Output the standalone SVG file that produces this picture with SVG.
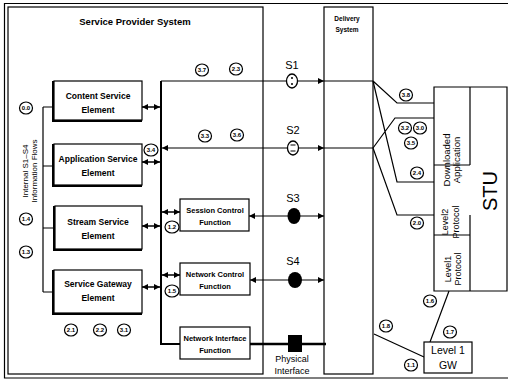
<svg xmlns="http://www.w3.org/2000/svg" width="510" height="383" viewBox="0 0 510 383">
<defs>
<marker id="ah" markerUnits="userSpaceOnUse" markerWidth="7" markerHeight="7" refX="6" refY="3" orient="auto-start-reverse"><path d="M0,0 L6,3 L0,6 z" fill="#000"/></marker>
<style>
.ln{stroke:#000;fill:none;stroke-width:1.2}
.bus{stroke:#000;fill:none;stroke-width:2}
.bx{fill:#fff;stroke:#000;stroke-width:1.2}
.sh{stroke:#000;fill:none;stroke-width:3}
text{font-family:"Liberation Sans",Arial,sans-serif;fill:#000}
.tb{font-weight:bold;text-anchor:middle}
.el{font-size:8.5px}
.fn{font-size:7.5px}
.tn{text-anchor:middle}
.bub ellipse{fill:#fff;stroke:#000;stroke-width:1.2}
.bub text{font-size:6px;font-weight:bold;text-anchor:middle}
.da{stroke:#000;stroke-width:1.5;marker-start:url(#ah);marker-end:url(#ah)}
</style>
</defs>
<rect width="510" height="383" fill="#fff"/>
<path class="ln" d="M508,3.5 H4.5 V378 H508"/>

<g id="service-provider">
<rect x="8" y="7" width="255" height="367" class="bx"/>
<text x="135" y="25" class="tb" font-size="9.5">Service Provider System</text>
<text transform="translate(28,171) rotate(-90)" class="tn" font-size="8"><tspan x="0" y="0">Internal S1–S4</tspan><tspan x="0" y="9">Information Flows</tspan></text>
</g>

<g id="connectors">
<path class="ln" d="M43,107 V292 M43,107 H53 M43,166 H53 M43,228 H53 M43,292 H53"/>
<path class="bus" d="M161,81 V344 H180"/>
<line x1="161" y1="81" x2="324" y2="81" class="ln" marker-end="url(#ah)"/>
<line x1="162" y1="148" x2="324" y2="148" class="ln" marker-start="url(#ah)" marker-end="url(#ah)"/>
<line x1="249" y1="216" x2="324" y2="216" class="ln" marker-start="url(#ah)" marker-end="url(#ah)"/>
<line x1="250" y1="280" x2="324" y2="280" class="ln" marker-start="url(#ah)" marker-end="url(#ah)"/>
<line x1="250" y1="344" x2="326" y2="344" stroke="#000" stroke-width="2.5"/>
<line x1="142" y1="107" x2="160" y2="107" class="da"/>
<line x1="142" y1="162" x2="160" y2="162" class="da"/>
<line x1="142" y1="226" x2="160" y2="226" class="da"/>
<line x1="142" y1="287" x2="160" y2="287" class="da"/>
<line x1="162" y1="212" x2="180" y2="212" class="da"/>
<line x1="162" y1="275" x2="180" y2="275" class="da"/>
<path class="ln" d="M324,81 H373 M324,148 H373" stroke-width="1.6"/>
<path class="ln" d="M373,81 L397,103 H434 M373,81 L397,182 H434 M373,148 L395,118 H434 M373,148 L397,215 H434"/>
<path class="ln" d="M374,334 L424,357 M430,342 L449,291"/>
</g>

<g id="s-symbols">
<text x="292" y="69" class="tn" font-size="11">S1</text>
<ellipse cx="292" cy="81" rx="5.5" ry="7" fill="#fff" stroke="#000" stroke-width="1.3"/>
<circle cx="292" cy="78" r="1" fill="#000"/><circle cx="292" cy="84" r="1" fill="#000"/>
<text x="293" y="134" class="tn" font-size="11">S2</text>
<ellipse cx="293" cy="148" rx="5.5" ry="7" fill="#fff" stroke="#000" stroke-width="1.3"/>
<path d="M290.5,145 H295.5 M290.5,151 H295.5" stroke="#000" stroke-width="1.2"/>
<text x="293" y="202" class="tn" font-size="11">S3</text>
<ellipse cx="294" cy="216" rx="6.5" ry="8"/>
<text x="293" y="265" class="tn" font-size="11">S4</text>
<ellipse cx="295" cy="280" rx="7" ry="8"/>
<rect x="288" y="335" width="14" height="17"/>
<text x="292" y="362" class="tn" font-size="9">Physical</text>
<text x="292" y="374" class="tn" font-size="9">Interface</text>
</g>

<g id="content-service-element">
<path class="sh" d="M53.5,81 V120.5 H142"/>
<rect x="54" y="81" width="88" height="39" class="bx"/>
<text x="98" y="99" class="tb el">Content Service</text>
<text x="98" y="113" class="tb el">Element</text>
</g>
<g id="application-service-element">
<path class="sh" d="M53.5,144 V185.5 H142"/>
<rect x="54" y="144" width="88" height="41" class="bx"/>
<text x="98" y="162" class="tb el">Application Service</text>
<text x="98" y="176" class="tb el">Element</text>
</g>
<g id="stream-service-element">
<path class="sh" d="M54.5,206 V249.5 H142"/>
<rect x="55" y="206" width="87" height="43" class="bx"/>
<text x="98" y="225" class="tb el">Stream Service</text>
<text x="98" y="239" class="tb el">Element</text>
</g>
<g id="service-gateway-element">
<path class="sh" d="M53.5,270 V313.5 H142"/>
<rect x="54" y="270" width="88" height="43" class="bx"/>
<text x="98" y="287" class="tb el">Service Gateway</text>
<text x="98" y="301" class="tb el">Element</text>
</g>

<g id="session-control-function">
<rect x="180" y="199" width="69" height="32" class="bx"/>
<text x="215" y="213" class="tb fn">Session Control</text>
<text x="215" y="225" class="tb fn">Function</text>
</g>
<g id="network-control-function">
<rect x="180" y="263" width="70" height="32" class="bx"/>
<text x="215" y="277" class="tb fn">Network Control</text>
<text x="215" y="289" class="tb fn">Function</text>
</g>
<g id="network-interface-function">
<rect x="180" y="327" width="70" height="32" class="bx"/>
<text x="215" y="341" class="tb fn">Network Interface</text>
<text x="215" y="353" class="tb fn">Function</text>
</g>

<g id="delivery-system">
<rect x="324" y="7" width="49" height="367" fill="none" stroke="#000" stroke-width="1.2"/>
<text x="347" y="21" class="tb" font-size="6.5">Delivery</text>
<text x="347" y="32" class="tb" font-size="6.5">System</text>
</g>

<g id="stu">
<path class="ln" d="M434,87 H507 V291 H434 Z M470,87 V165 M434,165 H470 M434,235 H470 M470,215 V291"/>
<text transform="translate(450,160) rotate(-90)" class="tn" font-size="9.5"><tspan x="0" y="0">Downloaded</tspan><tspan x="0" y="10">Application</tspan></text>
<text transform="translate(448,222) rotate(-90)" class="tn" font-size="9"><tspan x="0" y="0">Level2</tspan><tspan x="0" y="11">Protocol</tspan></text>
<text transform="translate(451,269) rotate(-90)" class="tn" font-size="9"><tspan x="0" y="0">Level1</tspan><tspan x="0" y="10">Protocol</tspan></text>
<text transform="translate(497,191) rotate(-90)" class="tn" font-size="20">STU</text>
</g>

<g id="level1-gw">
<rect x="424" y="342" width="48" height="31" class="bx"/>
<text x="448" y="354" class="tn" font-size="10.5">Level 1</text>
<text x="448" y="369" class="tn" font-size="10.5">GW</text>
</g>

<g id="bubbles" class="bub">
<g><ellipse cx="26" cy="108" rx="6.5" ry="6"/><text x="26" y="110">0.0</text></g>
<g><ellipse cx="26" cy="219" rx="6.5" ry="6"/><text x="26" y="221">1.4</text></g>
<g><ellipse cx="26" cy="252" rx="6.5" ry="6"/><text x="26" y="254">1.3</text></g>
<g><ellipse cx="202" cy="70" rx="6.5" ry="6"/><text x="202" y="72">3.7</text></g>
<g><ellipse cx="236" cy="69" rx="6.5" ry="6"/><text x="236" y="71">2.3</text></g>
<g><ellipse cx="205" cy="136" rx="6.5" ry="6"/><text x="205" y="138">3.3</text></g>
<g><ellipse cx="237" cy="135" rx="6.5" ry="6"/><text x="237" y="137">3.6</text></g>
<g><ellipse cx="151" cy="150" rx="7" ry="6"/><text x="151" y="152">3.4</text></g>
<g><ellipse cx="172" cy="227" rx="7" ry="6"/><text x="172" y="229">1.2</text></g>
<g><ellipse cx="172" cy="291" rx="7" ry="6"/><text x="172" y="293">1.5</text></g>
<g><ellipse cx="71" cy="330" rx="6.5" ry="6"/><text x="71" y="332">2.1</text></g>
<g><ellipse cx="100" cy="330" rx="6.5" ry="6"/><text x="100" y="332">2.2</text></g>
<g><ellipse cx="124" cy="330" rx="6.5" ry="6"/><text x="124" y="332">3.1</text></g>
<g><ellipse cx="406" cy="95" rx="6.5" ry="6"/><text x="406" y="97">3.8</text></g>
<g><ellipse cx="405" cy="128" rx="6.5" ry="6"/><text x="405" y="130">3.2</text></g>
<g><ellipse cx="420" cy="128" rx="6.5" ry="6"/><text x="420" y="130">3.0</text></g>
<g><ellipse cx="411" cy="143" rx="6.5" ry="6"/><text x="411" y="145">3.5</text></g>
<g><ellipse cx="417" cy="173" rx="6.5" ry="6"/><text x="417" y="175">2.4</text></g>
<g><ellipse cx="417" cy="223" rx="6.5" ry="6"/><text x="417" y="225">2.0</text></g>
<g><ellipse cx="430" cy="301" rx="6.5" ry="6"/><text x="430" y="303">1.6</text></g>
<g><ellipse cx="386" cy="326" rx="6.5" ry="6"/><text x="386" y="328">1.8</text></g>
<g><ellipse cx="450" cy="332" rx="6.5" ry="6"/><text x="450" y="334">1.7</text></g>
<g><ellipse cx="411" cy="365" rx="6.5" ry="6"/><text x="411" y="367">1.1</text></g>
</g>
</svg>
